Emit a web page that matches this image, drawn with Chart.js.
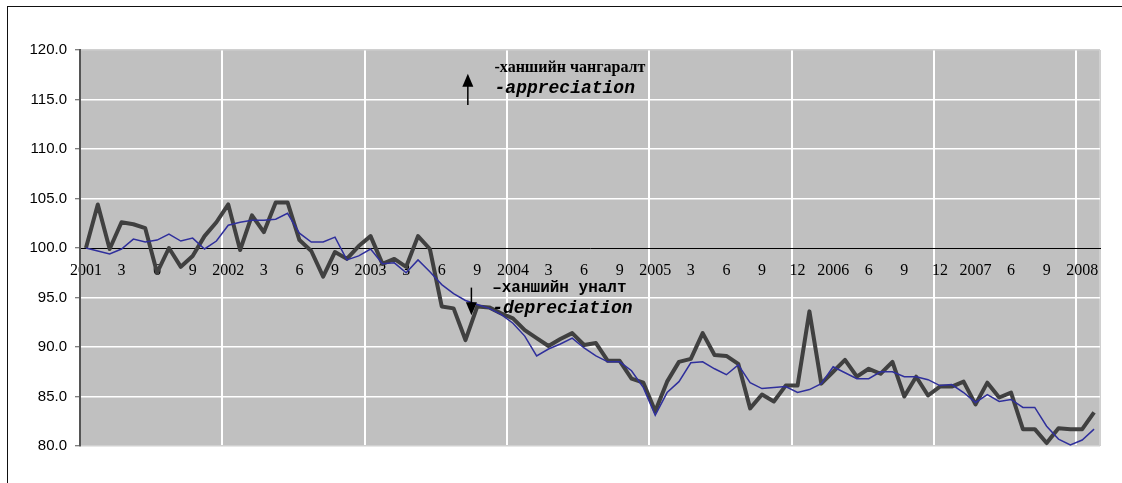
<!DOCTYPE html>
<html>
<head>
<meta charset="utf-8">
<script src="https://cdn.jsdelivr.net/npm/chart.js@4.4.1/dist/chart.umd.min.js"></script>
<style>
  html, body { margin: 0; padding: 0; background: #fff; overflow: hidden; }
  #wrap { position: relative; width: 1122px; height: 483px; overflow: hidden; }
  #frame { position: absolute; left: 7px; top: 6px; width: 1300px; height: 700px; border: 1px solid #111; box-sizing: border-box; pointer-events: none; }
  canvas { position: absolute; left: 0; top: 0; }
</style>
</head>
<body>
<div id="wrap">
  <div id="frame"></div>
  <canvas id="chart" width="1122" height="483"></canvas>
</div>
<script>
// monthly index, Jan 2001 .. Feb 2008 (2001 = 100)
const months = []
for (let y = 2001; y <= 2008; y++) {
  for (let m = 1; m <= 12; m++) {
    if (y === 2008 && m > 2) break
    months.push(y + '-' + String(m).padStart(2, '0'))
  }
}

// labels as printed under the 100 line (one entry per month)
const tickLabels = [
  '2001', '', '', '3', '', '', '6', '', '', '9', '', '',
  '2002', '', '', '3', '', '', '6', '', '', '9', '', '',
  '2003', '', '', '3', '', '', '6', '', '', '9', '', '',
  '2004', '', '', '3', '', '', '6', '', '', '9', '', '',
  '2005', '', '', '3', '', '', '6', '', '', '9', '', '',
  '12', '', '', '2006', '', '', '6', '', '', '9', '', '',
  '12', '', '', '2007', '', '', '6', '', '', '9', '', '',
  '2008', ''
]

// thick dark line
const seriesA = [
  100.0, 104.4, 99.9, 102.6, 102.4, 102.0, 97.5, 100.0, 98.1, 99.2, 101.2, 102.6,
  104.4, 99.8, 103.3, 101.6, 104.6, 104.6, 100.8, 99.7, 97.1, 99.6, 98.9, 100.2,
  101.2, 98.4, 98.9, 98.1, 101.2, 99.9, 94.1, 93.9, 90.7, 94.1, 94.0, 93.4,
  92.9, 91.7, 90.9, 90.1, 90.8, 91.4, 90.2, 90.4, 88.6, 88.6, 86.8, 86.4,
  83.5, 86.5, 88.5, 88.8, 91.4, 89.2, 89.1, 88.3, 83.8, 85.2, 84.5, 86.1,
  86.1, 93.6, 86.3, 87.5, 88.7, 87.0, 87.8, 87.3, 88.5, 85.0, 87.0, 85.1,
  86.0, 86.0, 86.5, 84.2, 86.4, 84.9, 85.4, 81.7, 81.7, 80.3, 81.8, 81.7,
  81.7, 83.4
]

// thin blue line
const seriesB = [
  100.0, 99.7, 99.4, 99.9, 100.9, 100.6, 100.8, 101.4, 100.7, 101.0, 99.9, 100.7,
  102.3, 102.6, 102.8, 102.8, 102.9, 103.5, 101.5, 100.6, 100.6, 101.1, 98.8, 99.2,
  99.9, 98.4, 98.5, 97.5, 98.8, 97.6, 96.3, 95.4, 94.7, 94.3, 93.9, 93.3,
  92.4, 91.1, 89.1, 89.8, 90.3, 90.9, 89.9, 89.1, 88.5, 88.5, 87.6, 85.9,
  83.1, 85.4, 86.5, 88.4, 88.5, 87.8, 87.2, 88.2, 86.4, 85.8, 85.9, 86.0,
  85.4, 85.7, 86.3, 88.0, 87.4, 86.8, 86.8, 87.5, 87.5, 87.0, 87.0, 86.7,
  86.1, 86.2, 85.4, 84.4, 85.2, 84.5, 84.7, 83.9, 83.9, 82.0, 80.7, 80.1,
  80.6, 81.7
]

const yMin = 80
const yMax = 120
const yStep = 5

const plotBg = {
  id: 'plotBg',
  beforeDraw(chart) {
    const { ctx, chartArea: a } = chart
    ctx.save()
    ctx.fillStyle = '#c0c0c0'
    ctx.fillRect(a.left, a.top, a.right - a.left, a.bottom - a.top)
    ctx.restore()
  }
}

// appreciation / depreciation notes, anchored in data units
const notes = {
  id: 'notes',
  afterDatasetsDraw(chart) {
    const { ctx, scales: { x, y } } = chart
    const arrow = (cat, from, to) => {
      const px = x.getPixelForValue(cat)
      const y0 = y.getPixelForValue(from)
      const y1 = y.getPixelForValue(to)
      const dir = y1 < y0 ? 1 : -1
      ctx.strokeStyle = '#000'
      ctx.fillStyle = '#000'
      ctx.lineWidth = 1.5
      ctx.beginPath()
      ctx.moveTo(px, y0)
      ctx.lineTo(px, y1 + dir * 12)
      ctx.stroke()
      ctx.beginPath()
      ctx.moveTo(px, y1)
      ctx.lineTo(px - 5.5, y1 + dir * 13)
      ctx.lineTo(px + 5.5, y1 + dir * 13)
      ctx.closePath()
      ctx.fill()
    }
    const text = (str, cat, val, font) => {
      ctx.font = font
      ctx.fillStyle = '#000'
      ctx.textAlign = 'left'
      ctx.textBaseline = 'middle'
      ctx.fillText(str, x.getPixelForValue(cat), y.getPixelForValue(val))
    }
    ctx.save()
    arrow(32.2, 114.45, 117.6)
    text('-ханшийн чангаралт', 34.45, 118.2, 'bold 16px "Liberation Serif"')
    text('-appreciation', 34.45, 116.1, 'italic bold 18px "Liberation Mono"')
    arrow(32.5, 96.0, 93.2)
    text('–ханшийн уналт', 34.25, 95.95, 'bold 16px "Liberation Mono"')
    text('-depreciation', 34.25, 93.9, 'italic bold 18px "Liberation Mono"')
    ctx.restore()
  }
}

new Chart(document.getElementById('chart'), {
  type: 'line',
  data: {
    labels: months,
    datasets: [
      {
        data: seriesA,
        borderColor: '#404040',
        borderWidth: 4,
        pointRadius: 0,
        tension: 0,
        borderJoinStyle: 'round',
        order: 1
      },
      {
        data: seriesB,
        borderColor: '#2f2f9c',
        borderWidth: 1.5,
        pointRadius: 0,
        tension: 0,
        order: 0
      }
    ]
  },
  options: {
    responsive: false,
    animation: false,
    devicePixelRatio: 1,
    layout: { padding: { left: 8, top: 50, right: 22, bottom: 37 } },
    plugins: { legend: { display: false }, tooltip: { enabled: false } },
    scales: {
      x: {
        type: 'category',
        position: { y: 100 },
        offset: true,
        afterFit: (s) => { s.height = 0 },
        grid: {
          offset: true,
          drawTicks: false,
          lineWidth: 2,
          color: (c) => c.tick ? (c.index % 12 === 0 && c.index > 0 ? '#ffffff' : 'transparent') : '#d0d0d0'
        },
        border: { display: true, color: '#000', width: 1 },
        ticks: {
          autoSkip: false,
          maxRotation: 0,
          padding: 13,
          color: '#000',
          font: { family: '"Liberation Serif"', size: 16 },
          callback: (v, i) => tickLabels[i]
        }
      },
      y: {
        min: yMin,
        max: yMax,
        afterFit: (s) => { s.width = 72 },
        grid: {
          lineWidth: 1.5,
          tickLength: 5,
          tickColor: '#555',
          tickWidth: 1,
          color: (c) => {
            const v = c.tick ? c.tick.value : null
            if (v === 100) return 'transparent'
            if (v === yMin || v === yMax) return '#d0d0d0'
            return '#ffffff'
          }
        },
        border: { display: true, color: '#555', width: 2 },
        ticks: {
          stepSize: yStep,
          padding: 8,
          color: '#000',
          font: { family: '"Liberation Sans"', size: 15 },
          callback: (v) => v.toFixed(1)
        }
      }
    }
  },
  plugins: [plotBg, notes]
})
</script>
</body>
</html>
